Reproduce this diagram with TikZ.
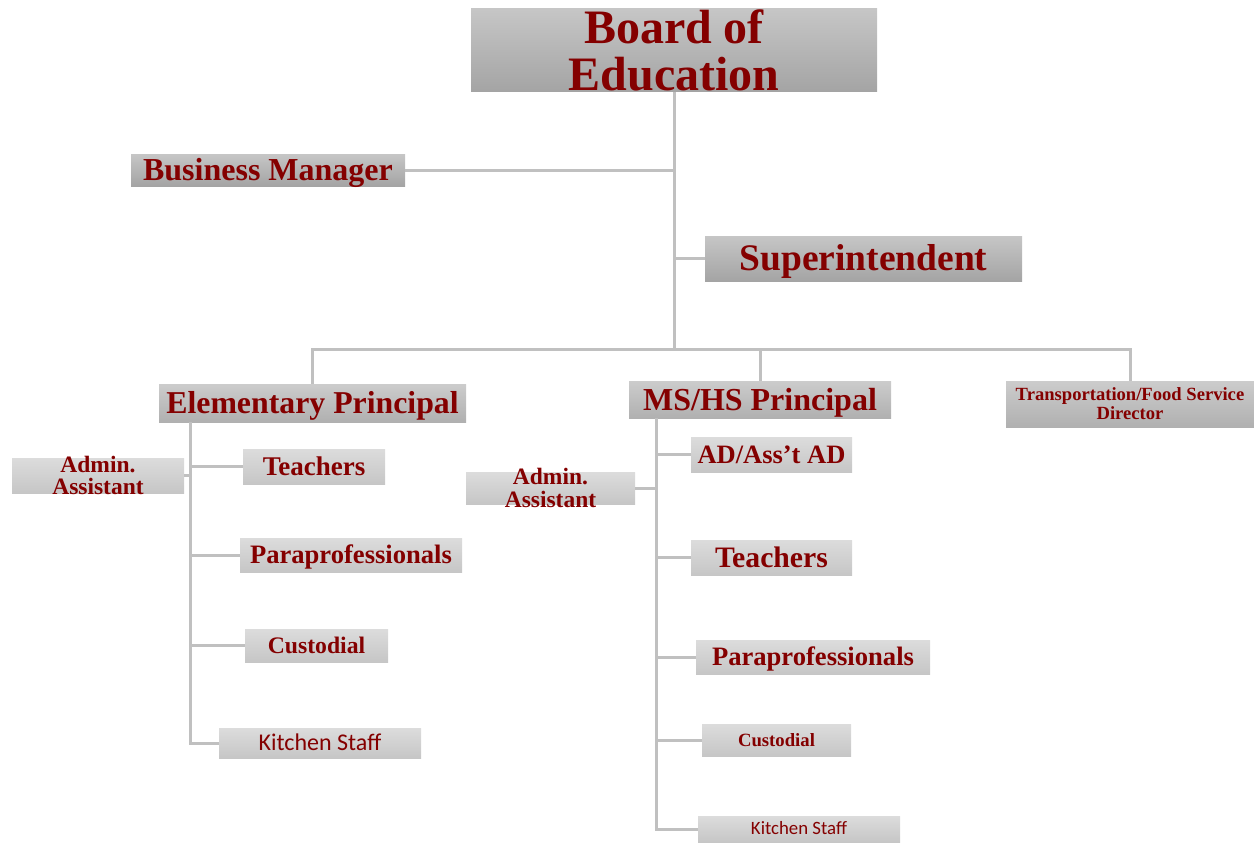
\documentclass[tikz,border=0pt]{standalone}
\usepackage{fontspec}
\setmainfont{Liberation Serif}
\newfontfamily\carl{Carlito}
\definecolor{dred}{RGB}{132,0,0}
\definecolor{lnc}{RGB}{192,192,192}
\definecolor{gA}{RGB}{198,198,198}
\definecolor{gB}{RGB}{164,164,164}
\definecolor{gC}{RGB}{204,204,204}
\definecolor{gD}{RGB}{176,176,176}
\definecolor{gE}{RGB}{220,220,220}
\definecolor{gF}{RGB}{198,198,198}
\newcommand{\fs}[1]{\fontsize{#1}{#1}\selectfont\bfseries}
\tikzset{
  bx/.style={inner sep=0pt, text=dred, top color=gA, bottom color=gB},
  th/.style={text height=#1pt, text depth=0pt},
  bxm/.style={bx, top color=gC, bottom color=gD},
  bxl/.style={bx, top color=gE, bottom color=gF},
  lbl/.style={inner sep=0pt, align=center, text=dred},
  ln/.style={draw=lnc, line width=3pt},
}
\begin{document}
\begin{tikzpicture}[x=1pt,y=-1pt]
\path[use as bounding box] (0,0) rectangle (1254,843);
% top level
\node[bx, align=center, minimum width=406, minimum height=83, font=\fontsize{48}{47}\selectfont\bfseries] (board) at (674,50.5) {Board of\\Education};
\node[bx, th=21.1, minimum width=274, minimum height=32, font=\fs{32}] (bm) at (268,170) {Business Manager};
\node[bx, th=24.75, minimum width=317, minimum height=45, font=\fs{37.5}] (sup) at (863.5,258.5) {Superintendent};
% principals
\node[bxm, th=21, minimum width=307, minimum height=38, font=\fs{31.8}] (elp) at (312.5,403) {Elementary Principal};
\node[bxm, th=21.1, minimum width=262, minimum height=37, font=\fs{32}] (msp) at (760,399.5) {MS/HS Principal};
\node[bxm, align=center, minimum width=248, minimum height=46, font=\fontsize{18.6}{19}\selectfont\bfseries] (tfd) at (1130,404) {Transportation/Food Service\\Director};
% elementary staff
\node[bxl, minimum width=172, minimum height=35] (ea) at (98,475.5) {};
\node[lbl, font=\fontsize{23.5}{22.5}\selectfont\bfseries] (eat) at (ea) {Admin.\\Assistant};
\node[bxl, th=17.8, minimum width=142, minimum height=35, font=\fs{27}] (et) at (314,466.5) {Teachers};
\node[bxl, th=17.6, minimum width=222, minimum height=34, font=\fs{26.6}] (ep) at (351,555) {Paraprofessionals};
\node[bxl, th=15.6, minimum width=143, minimum height=33, font=\fs{23.7}] (ec) at (316.5,645.5) {Custodial};
\node[bxl, th=15.2, minimum width=202, minimum height=30, font=\carl\fontsize{24}{24}\selectfont] (ek) at (320,743) {Kitchen Staff};
% ms/hs staff
\node[bxl, minimum width=169, minimum height=32] (ma) at (550.5,488) {};
\node[lbl, font=\fontsize{23.5}{22.5}\selectfont\bfseries] (mat) at (ma) {Admin.\\Assistant};
\node[bxl, th=17.5, minimum width=161, minimum height=35, font=\fs{26.5}] (mad) at (771.5,454.5) {AD/Ass't AD};
\node[bxl, th=19.6, minimum width=161, minimum height=35, font=\fs{29.7}] (mt) at (771.5,557.5) {Teachers};
\node[bxl, th=17.6, minimum width=234, minimum height=34, font=\fs{26.6}] (mp) at (813,657) {Paraprofessionals};
\node[bxl, th=12.3, minimum width=149, minimum height=32, font=\fs{18.7}] (mc) at (776.5,740) {Custodial};
\node[bxl, th=11.9, minimum width=202, minimum height=26, font=\carl\fontsize{18.8}{19}\selectfont] (mk) at (799,829) {Kitchen Staff};
% junction coordinates
\coordinate (bus) at (674,349);
\coordinate (elv) at (190,422);
\coordinate (msv) at (656,418);
% connectors
\draw[ln] (board.south) -- (bus);
\draw[ln] (bm.east) -- (bm.east -| board.south);
\draw[ln] (sup.west) -- (sup.west -| board.south);
\draw[ln] (elp.north) |- (bus) -| (tfd.north);
\draw[ln] (msp.north) -- (msp.north |- bus);
\draw[ln] (elv) -- (elv |- ek.west) -- (ek.west);
\draw[ln] (ea.east) -- (ea.east -| elv);
\draw[ln] (elv |- et.west) -- (et.west);
\draw[ln] (elv |- ep.west) -- (ep.west);
\draw[ln] (elv |- ec.west) -- (ec.west);
\draw[ln] (msv) -- (msv |- mk.west) -- (mk.west);
\draw[ln] (ma.east) -- (ma.east -| msv);
\draw[ln] (msv |- mad.west) -- (mad.west);
\draw[ln] (msv |- mt.west) -- (mt.west);
\draw[ln] (msv |- mp.west) -- (mp.west);
\draw[ln] (msv |- mc.west) -- (mc.west);
\end{tikzpicture}
\end{document}
